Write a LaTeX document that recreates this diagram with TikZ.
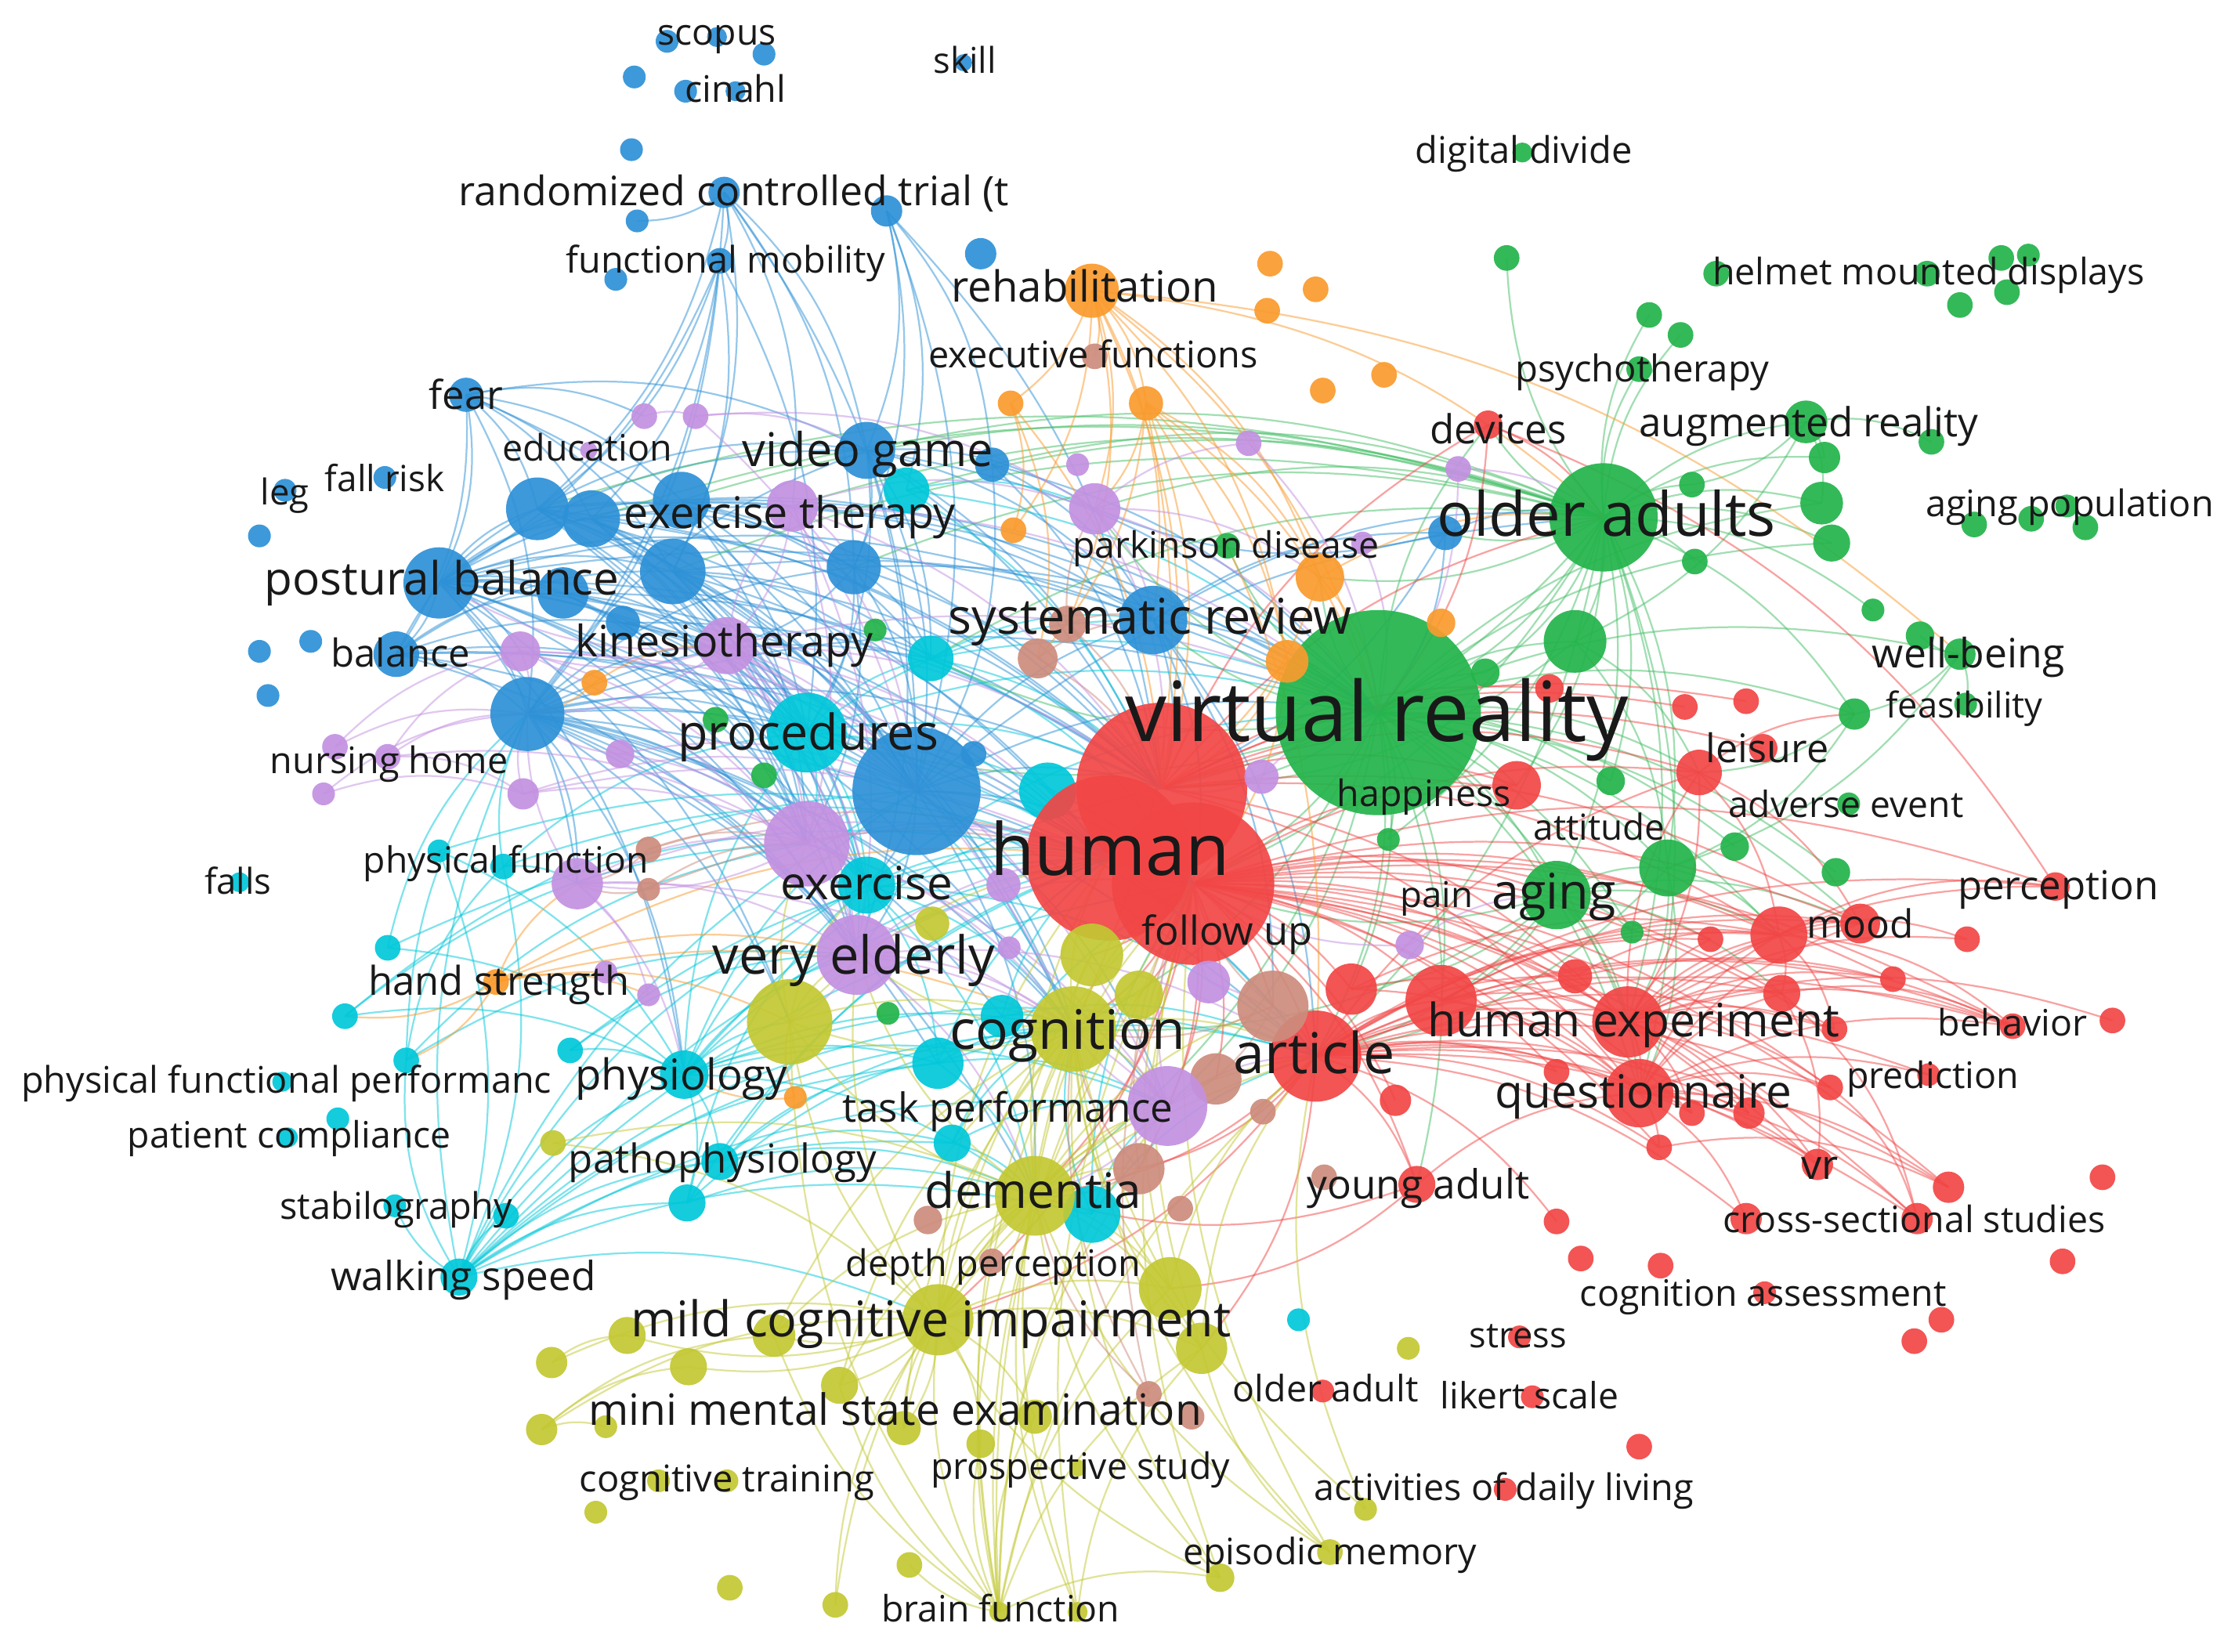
\documentclass[tikz,border=0pt]{standalone}
\usepackage{fontspec}
\setmainfont{Open Sans}
\usepackage{graphicx}
\pgfdeclarelayer{bg}
\pgfdeclarelayer{edges}
\pgfdeclarelayer{labels}
\pgfsetlayers{bg,edges,main,labels}
\definecolor{cblue}{RGB}{45,145,215}
\definecolor{ccyan}{RGB}{0,200,218}
\definecolor{cgreen}{RGB}{35,180,75}
\definecolor{cred}{RGB}{242,70,70}
\definecolor{cyel}{RGB}{195,200,50}
\definecolor{corange}{RGB}{250,155,45}
\definecolor{clilac}{RGB}{195,145,225}
\definecolor{cbrown}{RGB}{205,140,125}
\newdimen\vosu \vosu=0.02cm
\newcommand\nd[5]{\node[dot,fill=#5,minimum size={#4*0.04cm}] (#1) at (#2,#3) {};}
\newcommand\tx[5]{\node[lbl] (t-#1) at (#2,#3) {\resizebox{#4\vosu}{!}{\vphantom{hp}#5}};}
\newcommand\ed[3]{\foreach \t in {#3}{\draw[#1] (#2.center) to (\t.center);}}
\newcommand\edr[3]{\foreach \t in {#3}{\draw[#1] (\t.center) to (#2.center);}}
\begin{document}
\begin{tikzpicture}[x=0.02cm,y=-0.02cm,
  dot/.style={circle,inner sep=0pt,outer sep=0pt,draw=none,fill opacity=0.92},
  lbl/.style={inner sep=0pt,outer sep=0pt,text=black!90,yshift=-0.06cm},
  ebase/.style={line width=0.7pt,opacity=0.5,bend left=18},
  eb/.style={ebase,draw=cblue},
  ec/.style={ebase,draw=ccyan},
  eg/.style={ebase,draw=cgreen!85!white},
  er/.style={ebase,draw=cred},
  ey/.style={ebase,draw=cyel},
  eo/.style={ebase,draw=corange},
  el/.style={ebase,draw=clilac},
  en/.style={ebase,draw=cbrown}]
\useasboundingbox (0,0) rectangle (1568,1159);
\begin{pgfonlayer}{bg}
\fill[white] (0,0) rectangle (1568,1159);
\end{pgfonlayer}
% ---------------- large nodes ----------------
\nd{g-vr}{967}{500}{72}{cgreen}
\nd{b-mid}{643}{555}{45}{cblue}
\nd{c-Z}{735}{555}{20}{ccyan}
\nd{r-h1}{815}{553}{60}{cred}
\nd{r-h2}{778}{602}{58}{cred}
\nd{r-h3}{837}{620}{57}{cred}
\nd{g-oa}{1125}{363}{38}{cgreen}
% ---------------- blue ----------------
\nd{b-sc1}{468}{29}{8}{cblue}
\nd{b-sc2}{503}{26}{7}{cblue}
\nd{b-sc3}{536}{38}{8}{cblue}
\nd{b-n1}{445}{54}{8}{cblue}
\nd{b-cin1}{481}{64}{8}{cblue}
\nd{b-cin}{516}{64}{7}{cblue}
\nd{b-n2}{443}{105}{8}{cblue}
\nd{b-rct}{508}{135}{11}{cblue}
\nd{b-n3}{447}{155}{8}{cblue}
\nd{b-n4}{622}{148}{11}{cblue}
\nd{b-n5}{688}{178}{11}{cblue}
\nd{b-fm}{505}{183}{9}{cblue}
\nd{b-n6}{432}{196}{8}{cblue}
\nd{b-skill}{676}{44}{6}{cblue}
\nd{b-fear}{327}{277}{12}{cblue}
\nd{b-fr}{270}{335}{8}{cblue}
\nd{b-leg}{200}{344}{8}{cblue}
\nd{b-n7}{182}{376}{8}{cblue}
\nd{b-n8}{218}{450}{8}{cblue}
\nd{b-n9}{182}{457}{8}{cblue}
\nd{b-n10}{188}{488}{8}{cblue}
\nd{b-A}{377}{357}{22}{cblue}
\nd{b-B}{415}{364}{20}{cblue}
\nd{b-C}{478}{351}{20}{cblue}
\nd{b-D}{472}{401}{23}{cblue}
\nd{b-pb}{308}{409}{25}{cblue}
\nd{b-E}{395}{416}{18}{cblue}
\nd{b-F}{437}{437}{12}{cblue}
\nd{b-bal}{278}{459}{16}{cblue}
\nd{b-big}{370}{501}{26}{cblue}
\nd{b-vg}{608}{316}{20}{cblue}
\nd{b-G}{696}{326}{12}{cblue}
\nd{b-H}{599}{398}{19}{cblue}
\nd{b-I}{1014}{374}{12}{cblue}
\nd{b-sr}{809}{435}{24}{cblue}
\nd{b-J}{683}{529}{9}{cblue}
% ---------------- cyan ----------------
\nd{c-K}{636}{344}{16}{ccyan}
\nd{c-L}{653}{462}{16}{ccyan}
\nd{c-proc}{566}{514}{28}{ccyan}
\nd{c-ex}{608}{621}{20}{ccyan}
\nd{c-M}{703}{713}{15}{ccyan}
\nd{c-N}{658}{746}{18}{ccyan}
\nd{c-O}{668}{802}{13}{ccyan}
\nd{c-P}{766}{852}{20}{ccyan}
\nd{c-Q}{911}{926}{8}{ccyan}
\nd{c-phys}{480}{754}{17}{ccyan}
\nd{c-path}{505}{815}{13}{ccyan}
\nd{c-R}{482}{844}{13}{ccyan}
\nd{c-ws}{322}{896}{13}{ccyan}
\nd{c-S}{355}{853}{9}{ccyan}
\nd{c-stab}{277}{846}{8}{ccyan}
\nd{c-pc}{237}{785}{8}{ccyan}
\nd{c-T}{202}{798}{7}{ccyan}
\nd{c-pfp}{198}{759}{7}{ccyan}
\nd{c-U}{285}{744}{9}{ccyan}
\nd{c-V}{400}{737}{9}{ccyan}
\nd{c-W}{242}{713}{9}{ccyan}
\nd{c-X}{272}{665}{9}{ccyan}
\nd{c-pf}{353}{608}{9}{ccyan}
\nd{c-Y}{308}{597}{8}{ccyan}
\nd{c-falls}{168}{619}{7}{ccyan}
% ---------------- green ----------------
\nd{g-dd}{1068}{107}{7}{cgreen}
\nd{g-1}{1057}{181}{9}{cgreen}
\nd{g-2}{1204}{192}{9}{cgreen}
\nd{g-hmd}{1352}{192}{9}{cgreen}
\nd{g-3}{1404}{181}{9}{cgreen}
\nd{g-4}{1423}{179}{8}{cgreen}
\nd{g-5}{1408}{205}{9}{cgreen}
\nd{g-6}{1375}{214}{9}{cgreen}
\nd{g-7}{1157}{221}{9}{cgreen}
\nd{g-8}{1179}{235}{9}{cgreen}
\nd{g-psy}{1150}{259}{9}{cgreen}
\nd{g-ar}{1267}{296}{15}{cgreen}
\nd{g-9}{1355}{310}{9}{cgreen}
\nd{g-10}{1280}{321}{11}{cgreen}
\nd{g-11}{1278}{353}{15}{cgreen}
\nd{g-12}{1285}{381}{13}{cgreen}
\nd{g-13}{1187}{340}{9}{cgreen}
\nd{g-14}{1189}{394}{9}{cgreen}
\nd{g-ap}{1450}{355}{8}{cgreen}
\nd{g-15}{1385}{368}{9}{cgreen}
\nd{g-16}{1425}{364}{9}{cgreen}
\nd{g-17}{1463}{370}{9}{cgreen}
\nd{g-18}{1314}{428}{8}{cgreen}
\nd{g-19}{1347}{446}{10}{cgreen}
\nd{g-wb}{1375}{459}{11}{cgreen}
\nd{g-fea}{1379}{494}{8}{cgreen}
\nd{g-20}{1301}{501}{11}{cgreen}
\nd{g-21}{1105}{450}{22}{cgreen}
\nd{g-22}{1042}{472}{10}{cgreen}
\nd{g-23}{1130}{548}{10}{cgreen}
\nd{g-ae}{1297}{564}{8}{cgreen}
\nd{g-24}{1170}{609}{20}{cgreen}
\nd{g-25}{1217}{594}{10}{cgreen}
\nd{g-26}{1288}{612}{10}{cgreen}
\nd{g-aging}{1092}{628}{24}{cgreen}
\nd{g-27}{1145}{654}{8}{cgreen}
\nd{g-28}{974}{589}{8}{cgreen}
\nd{g-park}{861}{383}{9}{cgreen}
\nd{g-29}{614}{442}{8}{cgreen}
\nd{g-30}{502}{505}{9}{cgreen}
\nd{g-31}{536}{544}{9}{cgreen}
\nd{g-32}{623}{711}{8}{cgreen}
% ---------------- red ----------------
\nd{r-dev}{1044}{298}{10}{cred}
\nd{r-hap}{1064}{551}{17}{cred}
\nd{r-1}{1087}{483}{10}{cred}
\nd{r-2}{1182}{496}{9}{cred}
\nd{r-3}{1225}{492}{9}{cred}
\nd{r-lei}{1192}{542}{16}{cred}
\nd{r-4}{1237}{525}{10}{cred}
\nd{r-perc}{1442}{622}{10}{cred}
\nd{r-mood}{1305}{648}{14}{cred}
\nd{r-5}{1248}{656}{20}{cred}
\nd{r-6}{1200}{659}{9}{cred}
\nd{r-7}{1380}{659}{9}{cred}
\nd{r-8}{1328}{687}{9}{cred}
\nd{r-9}{1105}{685}{12}{cred}
\nd{r-10}{1250}{697}{13}{cred}
\nd{r-he}{1142}{717}{25}{cred}
\nd{r-11}{1287}{722}{9}{cred}
\nd{r-beh}{1412}{720}{9}{cred}
\nd{r-12}{1482}{716}{9}{cred}
\nd{r-13}{1092}{752}{9}{cred}
\nd{r-q}{1150}{767}{24}{cred}
\nd{r-pred}{1353}{754}{8}{cred}
\nd{r-14}{1284}{763}{9}{cred}
\nd{r-15}{1187}{781}{9}{cred}
\nd{r-16}{1227}{781}{11}{cred}
\nd{r-17}{1164}{805}{9}{cred}
\nd{r-vr}{1275}{817}{11}{cred}
\nd{r-18}{1367}{833}{11}{cred}
\nd{r-19}{1475}{826}{9}{cred}
\nd{r-20}{1092}{857}{9}{cred}
\nd{r-21}{1225}{855}{11}{cred}
\nd{r-css}{1345}{855}{11}{cred}
\nd{r-22}{1109}{883}{9}{cred}
\nd{r-23}{1165}{888}{9}{cred}
\nd{r-24}{1447}{885}{9}{cred}
\nd{r-ca}{1238}{907}{8}{cred}
\nd{r-25}{1362}{926}{9}{cred}
\nd{r-26}{1343}{941}{9}{cred}
\nd{r-stress}{1066}{938}{8}{cred}
\nd{r-lik}{1075}{980}{8}{cred}
\nd{r-27}{1150}{1015}{9}{cred}
\nd{r-adl}{1056}{1045}{8}{cred}
\nd{r-oad}{928}{976}{8}{cred}
\nd{r-28}{948}{694}{18}{cred}
\nd{r-29}{1011}{702}{25}{cred}
\nd{r-art}{923}{741}{32}{cred}
\nd{r-30}{979}{772}{11}{cred}
\nd{r-ya}{994}{831}{13}{cred}
% ---------------- yellow ----------------
\nd{y-1}{654}{648}{12}{cyel}
\nd{y-2}{766}{670}{22}{cyel}
\nd{y-3}{554}{717}{30}{cyel}
\nd{y-cog}{753}{722}{30}{cyel}
\nd{y-4}{799}{698}{17}{cyel}
\nd{y-dem}{726}{839}{28}{cyel}
\nd{y-5}{821}{904}{22}{cyel}
\nd{y-mci}{658}{926}{25}{cyel}
\nd{y-6}{543}{937}{15}{cyel}
\nd{y-7}{843}{946}{18}{cyel}
\nd{y-8}{988}{946}{8}{cyel}
\nd{y-9}{589}{972}{13}{cyel}
\nd{y-mmse}{634}{1002}{12}{cyel}
\nd{y-10}{726}{994}{12}{cyel}
\nd{y-11}{688}{1013}{10}{cyel}
\nd{y-ps}{756}{1030}{6}{cyel}
\nd{y-12}{958}{1059}{8}{cyel}
\nd{y-13}{638}{1098}{9}{cyel}
\nd{y-em}{933}{1089}{9}{cyel}
\nd{y-14}{856}{1107}{10}{cyel}
\nd{y-15}{586}{1126}{9}{cyel}
\nd{y-bf}{701}{1131}{7}{cyel}
\nd{y-16}{756}{1131}{7}{cyel}
\nd{y-17}{388}{802}{9}{cyel}
\nd{y-18}{440}{937}{13}{cyel}
\nd{y-19}{483}{959}{13}{cyel}
\nd{y-20}{387}{956}{11}{cyel}
\nd{y-21}{380}{1003}{11}{cyel}
\nd{y-22}{425}{1001}{8}{cyel}
\nd{y-ct}{462}{1039}{8}{cyel}
\nd{y-23}{510}{1039}{8}{cyel}
\nd{y-24}{418}{1061}{8}{cyel}
\nd{y-25}{512}{1114}{9}{cyel}
% ---------------- brown ----------------
\nd{n-ef}{768}{250}{9}{cbrown}
\nd{n-1}{749}{438}{13}{cbrown}
\nd{n-2}{728}{462}{14}{cbrown}
\nd{n-3}{455}{596}{9}{cbrown}
\nd{n-4}{455}{624}{8}{cbrown}
\nd{n-5}{893}{706}{25}{cbrown}
\nd{n-6}{853}{757}{18}{cbrown}
\nd{n-7}{886}{780}{9}{cbrown}
\nd{n-8}{799}{820}{18}{cbrown}
\nd{n-9}{929}{826}{9}{cbrown}
\nd{n-10}{651}{856}{10}{cbrown}
\nd{n-11}{828}{848}{9}{cbrown}
\nd{n-dp}{696}{885}{9}{cbrown}
\nd{n-12}{806}{978}{9}{cbrown}
\nd{n-13}{836}{994}{9}{cbrown}
% ---------------- orange ----------------
\nd{o-reh}{766}{204}{19}{corange}
\nd{o-1}{891}{185}{9}{corange}
\nd{o-2}{923}{203}{9}{corange}
\nd{o-3}{889}{218}{9}{corange}
\nd{o-4}{709}{283}{9}{corange}
\nd{o-5}{804}{283}{12}{corange}
\nd{o-6}{928}{274}{9}{corange}
\nd{o-7}{971}{263}{9}{corange}
\nd{o-8}{711}{372}{9}{corange}
\nd{o-9}{926}{405}{17}{corange}
\nd{o-10}{1011}{437}{10}{corange}
\nd{o-11}{903}{464}{15}{corange}
\nd{o-12}{417}{479}{9}{corange}
\nd{o-hs}{348}{689}{9}{corange}
\nd{o-13}{558}{770}{8}{corange}
% ---------------- lilac ----------------
\nd{l-1}{452}{292}{9}{clilac}
\nd{l-2}{488}{292}{9}{clilac}
\nd{l-edu}{413}{316}{6}{clilac}
\nd{l-et}{556}{355}{18}{clilac}
\nd{l-3}{756}{326}{8}{clilac}
\nd{l-4}{768}{357}{18}{clilac}
\nd{l-5}{876}{311}{9}{clilac}
\nd{l-6}{1023}{329}{9}{clilac}
\nd{l-7}{956}{381}{8}{clilac}
\nd{l-kin}{510}{453}{20}{clilac}
\nd{l-8}{365}{457}{14}{clilac}
\nd{l-9}{435}{529}{10}{clilac}
\nd{l-10}{235}{524}{9}{clilac}
\nd{l-nh}{272}{531}{9}{clilac}
\nd{l-11}{227}{557}{8}{clilac}
\nd{l-12}{367}{557}{11}{clilac}
\nd{l-13}{566}{592}{30}{clilac}
\nd{l-14}{405}{620}{18}{clilac}
\nd{l-15}{425}{682}{8}{clilac}
\nd{l-16}{455}{698}{8}{clilac}
\nd{l-17}{704}{621}{12}{clilac}
\nd{l-ve}{601}{670}{28}{clilac}
\nd{l-18}{708}{665}{8}{clilac}
\nd{l-19}{848}{689}{15}{clilac}
\nd{l-20}{989}{663}{10}{clilac}
\nd{l-tp}{819}{776}{28}{clilac}
\nd{l-21}{885}{545}{12}{clilac}
% ---------------- edges ----------------
\begin{pgfonlayer}{edges}
\ed{eb}{b-rct}{b-fm,b-big,b-vg,b-H,b-mid,b-A,l-et,b-n3,b-D}
\ed{eb}{b-n4}{b-vg,b-mid,b-G,b-H,c-K,r-h1}
\ed{eb}{b-fm}{b-big,b-A,b-pb,b-D,c-proc,b-B}
\ed{eb}{b-fear}{b-pb,b-A,b-B,b-big,b-bal,b-vg,b-D,b-mid,l-1,b-C}
\ed{eb}{b-pb}{b-A,b-B,b-C,b-D,b-E,b-F,b-bal,b-big,c-proc,b-mid,l-kin,l-et,l-13,l-ve,r-h2,g-vr,b-sr,c-ex,y-3,c-phys,b-vg,b-H,r-h1,y-cog,l-8,l-14}
\ed{eb}{b-bal}{b-big,b-D,b-mid,c-proc,l-13,r-h2,b-A,b-E,l-kin,l-ve}
\ed{eb}{b-big}{b-mid,c-proc,l-13,l-ve,r-h2,y-3,c-phys,c-ex,y-cog,y-dem,c-L,b-H,l-kin,c-M,l-14,b-vg,r-h1,g-vr,r-art,l-tp,c-N}
\ed{eb}{b-A}{b-D,b-mid,c-proc,r-h2,l-kin,b-H,b-vg,l-13,r-h1,g-vr,l-ve,c-ex}
\ed{eb}{b-B}{b-mid,c-proc,r-h1,l-ve,b-sr,b-H,l-13,y-cog,c-ex}
\ed{eb}{b-C}{b-mid,r-h1,c-L,b-sr,g-vr,l-13,c-proc}
\ed{eb}{b-D}{b-mid,c-proc,r-h1,l-13,l-ve,y-cog,r-h2,g-vr,c-ex,c-L}
\ed{eb}{b-E}{b-mid,r-h2,c-ex,l-13,c-proc,r-h1}
\ed{eb}{b-F}{b-mid,r-h1,c-proc,l-13}
\ed{eb}{b-vg}{b-mid,r-h1,g-vr,b-sr,l-4,c-L,c-proc,b-H,r-h3,l-ve}
\ed{eb}{b-H}{b-mid,r-h1,c-proc,c-L,l-kin,g-vr,l-13}
\ed{eb}{b-G}{r-h1,g-vr,b-sr,b-mid}
\ed{eb}{b-mid}{r-h1,r-h2,g-vr,b-sr,y-cog,l-ve,c-ex,r-art,y-dem,l-tp,r-h3,g-oa}
\ed{eb}{b-sr}{r-h1,g-vr,g-oa,r-art,n-5,b-I,r-h3}
\ed{eb}{b-I}{g-oa,g-vr,r-h1,l-4}
\ed{ec}{c-ws}{c-phys,c-R,c-S,c-stab,c-path,c-O,b-mid,r-h2,c-N,y-mci,c-P,b-big,c-U,c-M,y-cog,l-tp,r-h3,c-ex}
\ed{ec}{c-U}{c-pf,l-13,b-big,l-ve}
\ed{ec}{c-W}{c-phys,b-mid,l-13}
\ed{ec}{c-X}{c-phys,r-h2,b-big}
\ed{ec}{c-pf}{b-big,l-14,c-ws,c-proc,r-h2}
\ed{ec}{c-Y}{c-phys,r-h2,c-ws}
\ed{ec}{c-V}{c-phys,l-ve,r-h2}
\ed{ec}{c-phys}{r-h2,c-ex,l-ve,c-proc,b-mid,y-cog,c-N,y-3,c-path,c-R,y-dem,r-h1,r-art,l-tp}
\ed{ec}{c-path}{r-h2,y-cog,c-N,c-O,y-dem}
\ed{ec}{c-R}{r-h2,c-ex,y-dem,y-cog}
\ed{ec}{c-proc}{r-h1,r-h2,g-vr,c-ex,l-ve,y-cog,r-art,c-L,l-13,b-sr,r-h3}
\ed{ec}{c-ex}{r-h2,y-cog,l-ve,r-art,c-N,y-dem,g-vr,r-h3}
\ed{ec}{c-L}{r-h1,g-vr,b-sr,r-h3}
\ed{ec}{c-K}{r-h1,g-vr,l-4}
\ed{ec}{c-M}{r-h2,y-cog,r-art}
\ed{ec}{c-N}{r-h2,y-cog,l-tp,y-dem,r-art}
\ed{ec}{c-O}{r-h3,y-cog,y-dem,l-tp}
\ed{ec}{c-P}{r-h3,y-cog,l-tp,r-art}
\ed{eg}{g-oa}{g-vr,g-ar,g-10,g-11,g-12,g-13,g-14,g-21,g-psy,g-7,g-8,g-1,r-h1,r-h3,g-aging,g-24,r-art,g-22,g-18,g-20,r-he,o-9,r-dev,b-I,r-q,r-hap,g-23,g-28}
\edr{eg}{g-oa}{l-et,c-K,b-D,l-4,b-C,b-vg,b-H,b-A,b-G,c-L,b-B}
\ed{eg}{g-vr}{r-h1,r-h3,g-aging,g-21,g-22,g-23,g-24,r-art,r-hap,r-lei,r-he,r-q,g-wb,g-20,g-25,g-26,g-28,r-5,g-27,y-cog,r-29,l-4,b-sr,o-9,o-11,c-L,c-proc,r-dev,g-park,g-12,g-11,r-ya,r-28,r-mood,l-tp,y-dem}
\ed{eg}{g-ar}{g-9,g-10,g-11,g-13,g-21}
\ed{eg}{g-wb}{g-20,g-19,g-fea,g-24}
\ed{eg}{g-20}{r-lei,g-24}
\ed{eg}{g-aging}{r-he,r-q,r-art,r-h3,g-24,r-5,g-27,y-cog,r-29,r-28,r-mood,r-10}
\ed{eg}{g-24}{r-he,r-q,r-5,r-art}
\ed{eg}{g-21}{r-h1,r-lei,g-24}
\ed{er}{r-h3}{r-art,r-28,r-29,r-he,r-q,r-5,r-mood,r-lei,r-hap,r-ya,r-9,r-10,r-13,r-30,r-perc,r-beh,r-vr,r-16,r-15,r-css,y-cog,y-dem,y-mci,l-tp,n-5,n-6,n-8,y-4,g-aging,y-2,r-14,r-11,r-17,r-18,r-6,r-8}
\ed{er}{r-h1}{r-dev,r-hap,r-1,r-lei,g-oa,r-he,r-2,r-3,r-4,r-5,r-mood,r-q}
\ed{er}{r-art}{r-he,r-q,r-5,r-mood,r-10,r-vr,r-css,r-beh,r-pred,r-16,r-15,r-17,r-ya,r-9,r-13,r-lei,r-29,r-perc,r-14,r-11,y-mci,y-7,y-dem,n-8,r-21,r-20,r-18,r-6,r-8}
\ed{er}{r-he}{r-q,r-5,r-mood,r-10,r-beh,r-11,r-14,r-vr,r-16,r-15,r-lei,r-6,r-8,r-perc,r-12,r-7}
\ed{er}{r-q}{r-5,r-mood,r-10,r-vr,r-css,r-16,r-15,r-17,r-14,r-beh,r-18,r-pred,r-21}
\ed{er}{r-5}{r-mood,r-10,r-beh,r-perc,r-7,r-11}
\ed{er}{r-10}{r-beh,r-vr,r-css}
\ed{er}{r-dev}{g-vr,g-oa,r-perc}
\ed{er}{r-lei}{r-5,g-20,r-he,r-mood}
\ed{er}{r-29}{r-he,r-q,r-5,r-beh,r-mood}
\ed{er}{r-28}{r-he,r-q,r-5}
\ed{er}{r-ya}{y-dem,y-5,r-q}
\ed{er}{r-17}{r-18}
\ed{er}{r-14}{r-css}
\ed{er}{r-9}{r-5,r-beh}
\ed{ey}{y-bf}{y-mci,y-dem,y-cog,y-5,y-7,y-10,y-13,y-9,y-14,y-11,y-3,r-h3,y-6,y-4,y-2,r-art,l-tp,n-8}
\ed{ey}{y-15}{y-mci,y-dem}
\ed{ey}{y-16}{y-dem,y-cog,y-7,r-h3}
\ed{ey}{y-14}{y-dem,y-cog,y-mci,r-h3}
\ed{ey}{y-em}{y-dem,y-cog,r-h3,y-7}
\ed{ey}{y-12}{y-cog,r-art}
\ed{ey}{y-mci}{y-dem,y-cog,y-3,r-h2,r-art,l-tp,y-5,y-7,y-6,y-9,y-10,y-11,y-mmse,y-18,y-19,r-h3,l-ve}
\ed{ey}{y-dem}{y-cog,r-h2,r-h3,y-3,r-art,l-ve,l-tp,y-5,y-7,n-8,c-P,n-5}
\ed{ey}{y-cog}{r-h3,r-h2,y-3,r-art,l-ve,l-tp,y-2,y-4}
\ed{ey}{y-3}{r-h2,l-ve,l-13,y-cog,c-ex}
\ed{ey}{y-20}{y-18,y-mci}
\ed{ey}{y-21}{y-22,y-19,y-mci,y-6}
\ed{ey}{y-mmse}{y-mci,y-dem,y-cog}
\ed{ey}{y-17}{y-mci,y-dem}
\ed{ey}{y-7}{r-h3,r-art,y-cog}
\ed{ey}{y-5}{r-h3,y-cog,r-art}
\ed{ey}{y-6}{y-cog,y-dem}
\ed{ey}{y-9}{y-dem,y-cog}
\ed{eo}{o-reh}{o-4,o-5,n-ef,o-9,r-h1,g-vr,o-11,l-4,b-sr,o-8,n-1,g-oa,g-wb}
\ed{eo}{o-5}{r-h1,o-9,g-vr,o-11,l-4,y-cog,n-2,r-art}
\ed{eo}{o-4}{r-h1,n-2,o-8}
\ed{eo}{o-hs}{l-16,l-ve,c-U,l-14,r-h2,y-3,c-W,y-cog}
\ed{eo}{o-9}{r-h1,g-vr,g-oa}
\ed{eo}{o-11}{r-h1,r-h3}
\ed{eo}{o-13}{c-phys,y-3}
\ed{eo}{o-12}{b-big,l-kin}
\ed{en}{n-5}{r-h3,r-art,y-cog,l-tp}
\ed{en}{n-8}{y-dem,r-h3,y-cog}
\ed{en}{n-1}{r-h1,b-sr,l-4}
\ed{en}{n-2}{r-h1,b-sr}
\ed{en}{n-3}{l-14,l-13,r-h2}
\ed{en}{n-4}{l-14,l-13,r-h2}
\ed{en}{n-12}{y-dem,y-cog,r-h3}
\ed{el}{l-kin}{b-pb,b-mid,l-13,l-ve,r-h1,c-proc,l-et,b-big,l-8,y-cog,l-tp,g-vr,r-h2,c-ex}
\ed{el}{l-et}{b-mid,r-h1,l-13,l-kin,g-vr,l-4,b-H,l-ve}
\ed{el}{l-13}{r-h2,l-ve,c-ex,y-cog,l-tp,b-mid,l-14,r-h3}
\ed{el}{l-ve}{r-h2,r-h3,y-cog,l-tp,y-dem,r-art,y-3}
\ed{el}{l-tp}{r-h3,r-art,y-dem,y-cog}
\ed{el}{l-14}{l-13,l-ve,c-phys,b-big,r-h2,l-16,y-cog}
\ed{el}{l-8}{b-big,l-13,b-mid,r-h2,l-ve}
\ed{el}{l-12}{b-big,l-13,b-mid,r-h2}
\ed{el}{l-9}{b-big,l-13,b-mid}
\ed{el}{l-nh}{b-big,l-8,l-12,l-13}
\ed{el}{l-10}{b-big,l-8}
\ed{el}{l-11}{b-big,l-12}
\ed{el}{l-1}{l-2}
\ed{el}{l-2}{l-4,b-vg,b-mid}
\ed{el}{l-4}{r-h1,g-vr,b-sr,l-5,o-9}
\ed{el}{l-6}{g-oa,g-vr}
\ed{el}{l-5}{g-vr}
\ed{el}{l-7}{g-vr}
\ed{el}{l-20}{r-h3,g-aging}
\ed{el}{l-19}{r-h3,r-art}
\ed{el}{l-21}{r-h1,g-vr}
\end{pgfonlayer}
% ---------------- labels ----------------
\begin{pgfonlayer}{labels}
\tx{scopus}{503}{22}{83}{scopus}
\tx{cinahl}{516}{62}{71}{cinahl}
\tx{skill}{677}{42}{44}{skill}
\tx{dd}{1069}{105}{152}{digital divide}
\tx{rct}{515}{134}{386}{randomized controlled trial (t}
\tx{fm}{509}{182}{224}{functional mobility}
\tx{reh}{761}{201}{187}{rehabilitation}
\tx{ef}{767}{248}{231}{executive functions}
\tx{hmd}{1353}{190}{303}{helmet mounted displays}
\tx{psy}{1152}{258}{178}{psychotherapy}
\tx{fear}{327}{277}{52}{fear}
\tx{edu}{412}{314}{119}{education}
\tx{dev}{1051}{301}{96}{devices}
\tx{ar}{1269}{296}{238}{augmented reality}
\tx{vg}{609}{316}{176}{video game}
\tx{leg}{200}{345}{34}{leg}
\tx{fr}{270}{335}{84}{fall risk}
\tx{et}{554}{360}{232}{exercise therapy}
\tx{oa}{1127}{362}{238}{older adults}
\tx{ap}{1452}{353}{202}{aging population}
\tx{park}{860}{382}{215}{parkinson disease}
\tx{pb}{310}{406}{249}{postural balance}
\tx{sr}{807}{433}{283}{systematic review}
\tx{kin}{508}{450}{209}{kinesiotherapy}
\tx{bal}{281}{458}{98}{balance}
\tx{wb}{1381}{458}{135}{well-being}
\tx{fea}{1378}{494}{110}{feasibility}
\tx{vr}{966}{502}{353}{virtual reality}
\tx{proc}{567}{514}{183}{procedures}
\tx{lei}{1240}{525}{86}{leisure}
\tx{nh}{273}{533}{167}{nursing home}
\tx{hap}{999}{556}{122}{happiness}
\tx{ae}{1295}{564}{165}{adverse event}
\tx{att}{1122}{580}{92}{attitude}
\tx{hum}{779}{598}{168}{human}
\tx{pf}{355}{603}{200}{physical function}
\tx{falls}{167}{618}{47}{falls}
\tx{ex}{608}{620}{121}{exercise}
\tx{perc}{1444}{621}{141}{perception}
\tx{pain}{1008}{627}{51}{pain}
\tx{aging}{1090}{626}{87}{aging}
\tx{mood}{1305}{648}{75}{mood}
\tx{fu}{861}{653}{120}{follow up}
\tx{ve}{599}{671}{198}{very elderly}
\tx{hs}{350}{688}{183}{hand strength}
\tx{beh}{1412}{717}{105}{behavior}
\tx{he}{1146}{716}{289}{human experiment}
\tx{cog}{749}{723}{165}{cognition}
\tx{art}{922}{740}{113}{article}
\tx{pfp}{201}{757}{372}{physical functional performanc}
\tx{phys}{478}{754}{149}{physiology}
\tx{q}{1153}{766}{208}{questionnaire}
\tx{pred}{1356}{754}{121}{prediction}
\tx{tp}{707}{777}{232}{task performance}
\tx{pc}{203}{796}{227}{patient compliance}
\tx{path}{507}{813}{216}{pathophysiology}
\tx{vrs}{1277}{817}{26}{vr}
\tx{ya}{995}{831}{156}{young adult}
\tx{dem}{725}{836}{152}{dementia}
\tx{stab}{278}{846}{163}{stabilography}
\tx{css}{1343}{855}{268}{cross-sectional studies}
\tx{dp}{697}{886}{207}{depth perception}
\tx{ws}{325}{895}{186}{walking speed}
\tx{ca}{1237}{907}{257}{cognition assessment}
\tx{mci}{653}{926}{421}{mild cognitive impairment}
\tx{stress}{1065}{936}{68}{stress}
\tx{oad}{930}{974}{130}{older adult}
\tx{lik}{1073}{979}{125}{likert scale}
\tx{mmse}{628}{989}{430}{mini mental state examination}
\tx{ps}{758}{1028}{210}{prospective study}
\tx{ct}{510}{1037}{207}{cognitive training}
\tx{adl}{1055}{1043}{266}{activities of daily living}
\tx{em}{933}{1088}{206}{episodic memory}
\tx{bf}{702}{1128}{167}{brain function}
\end{pgfonlayer}
\end{tikzpicture}
\end{document}
